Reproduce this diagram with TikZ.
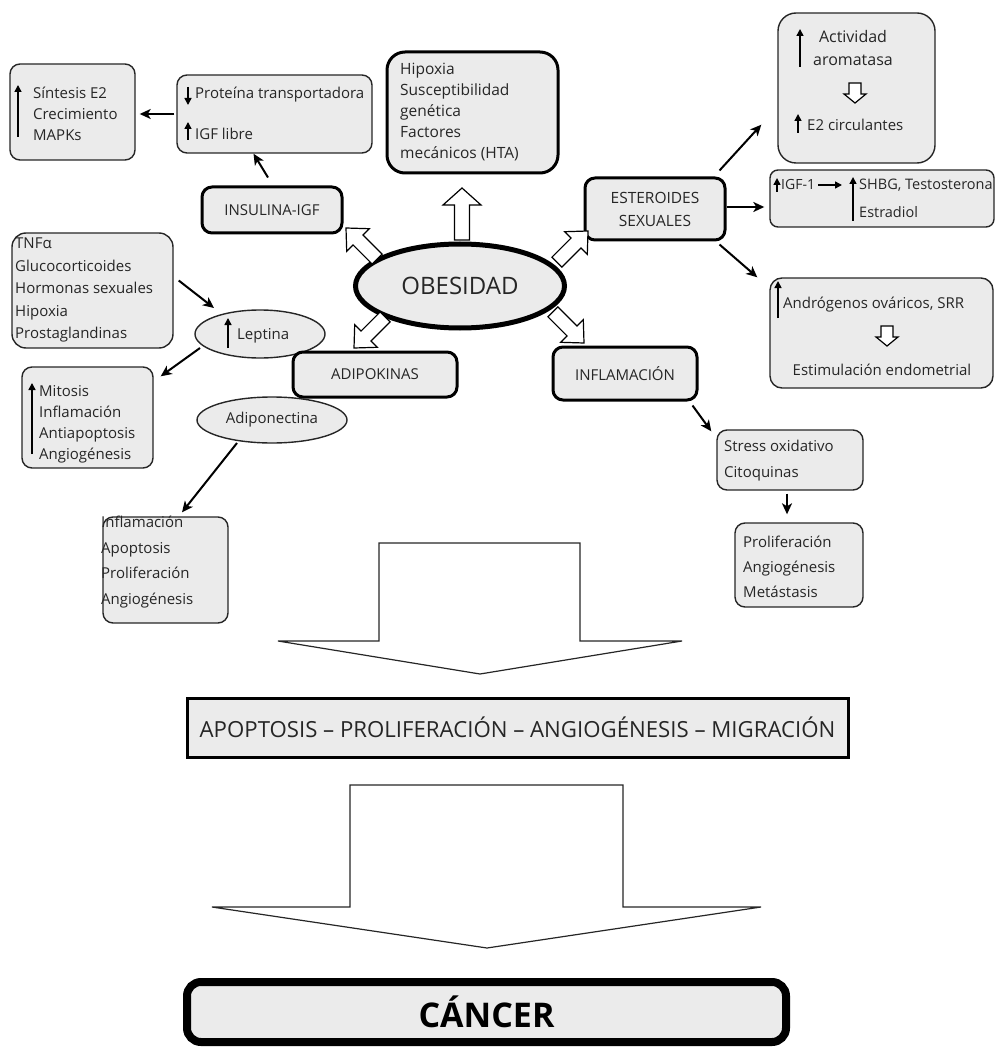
\documentclass[tikz,border=0pt]{standalone}
\usepackage{fontspec}
\setmainfont{Open Sans}
\usetikzlibrary{arrows.meta,shapes.geometric,calc}
\definecolor{boxfill}{HTML}{EBEBEB}
\definecolor{textc}{HTML}{262626}
\newcommand\bodyfont{\fontsize{15}{21}\selectfont}
\tikzset{
  pics/hollowarr/.style n args={4}{code={
    \draw[line width=1.2pt, fill=white, line join=miter]
      (0,0) -- (-#2,#3) -- (-#2,#4) -- (-#1,#4) -- (-#1,-#4) -- (-#2,-#4) -- (-#2,-#3) -- cycle;}},
}
\begin{document}
\begin{tikzpicture}[x=1pt,y=-1pt,
  bx/.style={draw=black!85, fill=boxfill, line width=1.4pt, rounded corners=10pt, inner sep=0pt, font=\bodyfont, text=textc},
  thk/.style={bx, draw=black, line width=3pt},
  ell/.style={ellipse, draw=black!85, fill=boxfill, line width=1.4pt, inner sep=0pt, font=\bodyfont, text=textc},
  tx/.style={text=textc, font=\bodyfont, inner sep=0pt, anchor=west, align=left},
  ua/.style={line width=1.5pt, draw=black, -{Triangle[length=7pt,width=7pt]}},
  conn/.style={line width=2pt, draw=black, -{Stealth[length=11pt,width=10pt,inset=3pt]}},
  bigarr/.style={draw=black!85, line width=1.2pt, fill=white, line join=miter}
]
\useasboundingbox (0,0) rectangle (995,1059);

% big hollow arrows
\draw[bigarr] (379,543) -- (580,543) -- (580,641) -- (682,641) -- (480,674) -- (278,641) -- (379,641) -- cycle;
\draw[bigarr] (350,785) -- (623,785) -- (623,907) -- (761,907) -- (487,948) -- (212,907) -- (350,907) -- cycle;

% top-left boxes
\node[bx, minimum width=125pt, minimum height=96pt] (sint) at (72.5,112) {};
\node[tx] (tsint) at (33,114) {Síntesis E2\\Crecimiento\\MAPKs};
\draw[ua] (18,137) -- (18,85);

\node[bx, minimum width=195pt, minimum height=78pt] (prot) at (274.5,114) {};
\node[tx] (tprot1) at (195,95) {Proteína transportadora};
\node[tx] (tprot2) at (195,134) {IGF libre};
\draw[ua] (188,87) -- (188,105);
\draw[ua] (188,140) -- (188,122);

\node[thk, minimum width=140pt, minimum height=46pt] (insul) at (272,210) {INSULINA-IGF};

% hipoxia
\node[thk, rounded corners=18pt, minimum width=171pt, minimum height=121pt] (hip) at (472.5,112.5) {};
\node[tx, font=\fontsize{15.5}{21}\selectfont] (thip) at (400,112) {Hipoxia\\Susceptibilidad\\genética\\Factores\\mecánicos (HTA)};

% actividad aromatasa
\node[bx, rounded corners=18pt, minimum width=157pt, minimum height=150pt] (act) at (856.5,88) {};
\node[tx, anchor=center, align=center, font=\fontsize{16}{23}\selectfont] (tact1) at (853,48) {Actividad\\aromatasa};
\draw[ua] (800,67) -- (800,29);
\pic[rotate=-90] at (855,103) {hollowarr={20}{9}{11}{6}};
\draw[ua] (798,133) -- (798,114);
\node[tx] (tact2) at (807,125) {E2 circulantes};

% esteroides
\node[thk, minimum width=140pt, minimum height=62pt, align=center, font=\fontsize{15.5}{23}\selectfont] (ester) at (655,209) {ESTEROIDES\\SEXUALES};

\node[bx, rounded corners=8pt, minimum width=224pt, minimum height=57pt] (igf) at (882,198.5) {};
\draw[ua] (777,192) -- (777,178);
\node[tx, font=\fontsize{14}{20}\selectfont] (tigf1) at (781,185) {IGF-1};
\draw[ua] (818,185) -- (842,185);
\draw[ua] (853,221) -- (853,177);
\node[tx, font=\fontsize{14.5}{20}\selectfont] (tigf2) at (859,185) {SHBG, Testosterona};
\node[tx, font=\fontsize{14.5}{20}\selectfont] (tigf3) at (859,212) {Estradiol};

\node[bx, rounded corners=12pt, minimum width=223pt, minimum height=110pt] (andr) at (881.5,333) {};
\draw[ua] (778,318) -- (778,281);
\node[tx] (tandr1) at (783,305) {Andrógenos ováricos, SRR};
\pic[rotate=-90] at (887,346) {hollowarr={20}{9}{11}{6}};
\node[tx, anchor=center] (tandr2) at (882,370) {Estimulación endometrial};

% inflamacion
\node[thk, minimum width=144pt, minimum height=53pt] (inflam) at (625,373.5) {INFLAMACIÓN};
\node[bx, minimum width=146pt, minimum height=60pt] (stress) at (790,460) {};
\node[tx] (tstress) at (724,461) {Stress oxidativo\\[5pt]Citoquinas};
\node[bx, minimum width=128pt, minimum height=84pt] (prolif) at (799,565) {};
\node[tx] (tprolif) at (743,567) {Proliferación\\[4pt]Angiogénesis\\[4pt]Metástasis};

% left side
\node[bx, rounded corners=14pt, minimum width=161pt, minimum height=115pt] (tnf) at (92.5,290.5) {};
\node[tx] (ttnf) at (15,290) {TNFα\\[1.5pt]Glucocorticoides\\[1.5pt]Hormonas sexuales\\[1.5pt]Hipoxia\\[1.5pt]Prostaglandinas};

\node[ell, minimum width=130pt, minimum height=48pt] (lept) at (260,334) {};
\draw[ua] (228,348) -- (228,318);
\node[tx] (tlept) at (237,336) {Leptina};

\node[bx, minimum width=131pt, minimum height=101pt] (mitosis) at (87.5,417.5) {};
\draw[ua] (32,454) -- (32,383);
\node[tx] (tmit) at (39,424) {Mitosis\\Inflamación\\Antiapoptosis\\Angiogénesis};

\node[thk, minimum width=164pt, minimum height=45pt] (adipok) at (375,374.5) {ADIPOKINAS};
\node[ell, minimum width=150pt, minimum height=46pt] (adipo) at (272,420) {Adiponectina};

\node[bx, minimum width=125pt, minimum height=106pt] (inflb) at (165.5,570) {};
\node[tx] (tinflb) at (101,562) {Inflamación\\[4.5pt]Apoptosis\\[4.5pt]Proliferación\\[4.5pt]Angiogénesis};

% obesidad
\node[ell, draw=black, line width=5pt, minimum width=209pt, minimum height=84pt, font=\fontsize{24}{30}\selectfont] (obes) at (460,286) {OBESIDAD};

% hollow arrows around obesidad
\pic[rotate=90] at (462,188) {hollowarr={52}{17}{19}{7.5}};
\pic[rotate=135] at (346,228) {hollowarr={44}{17}{16}{7}};
\pic[rotate=45] at (588,231) {hollowarr={44}{17}{16}{7}};
\pic[rotate=225] at (354,348) {hollowarr={44}{17}{16}{7}};
\pic[rotate=-45] at (584,343) {hollowarr={44}{17}{16}{7}};

% bottom boxes
\node[draw=black, fill=boxfill, line width=3pt, minimum width=661pt, minimum height=59pt, font=\fontsize{22.2}{27}\selectfont, text=textc] (apop) at (517.5,727.5) {APOPTOSIS – PROLIFERACIÓN – ANGIOGÉNESIS – MIGRACIÓN};
\node[draw=black, fill=boxfill, line width=8pt, rounded corners=14pt, minimum width=599pt, minimum height=60pt, font=\bfseries\fontsize{34}{40}\selectfont, text=black] (cancer) at (486.5,1012) {CÁNCER};

% connectors
\draw[conn, shorten >=4pt, shorten <=2pt] (prot.west) -- (prot.west -| sint.east);
\draw[conn] ($(insul.north)+(-4,-8)$) -- ($(prot.south)+(-21,0)$);
\draw[conn] ($(tnf.east)+(5,-10)$) -- ($(lept.center)+(-46,-26)$);
\draw[conn] ($(lept.center)+(-60,14)$) -- ($(mitosis.north east)+(7,10)$);
\draw[conn] ($(adipo.center)+(-35,23)$) -- ($(inflb.north)+(16.5,-4)$);
\draw[conn] ($(ester.north east)+(-7,-6)$) -- ($(act.south west)+(-16,-39)$);
\draw[conn, shorten >=5pt] ($(ester.east)+(0,-2)$) -- ($(ester.east -| igf.west)+(0,-2)$);
\draw[conn] ($(ester.south east)+(-7,3)$) -- ($(andr.north west)+(-12,0)$);
\draw[conn] ($(inflam.south east)+(-6,4)$) -- ($(stress.north west)+(-5,2)$);
\draw[conn] ($(stress.south)+(-3,3)$) -- ($(prolif.north)+(-12,-8)$);
\end{tikzpicture}
\end{document}
